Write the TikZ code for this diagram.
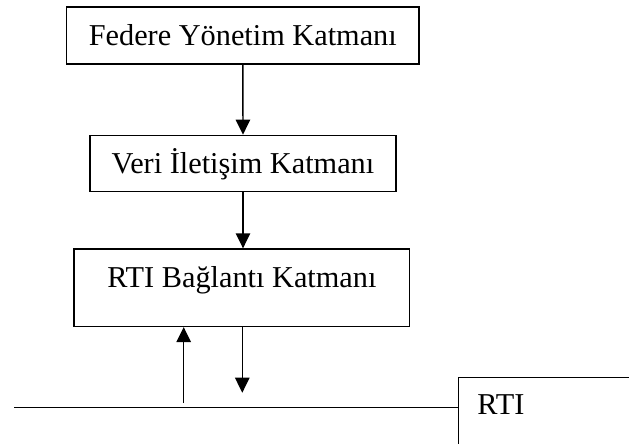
\documentclass[tikz,border=0pt]{standalone}
\usepackage{fontspec}
\setmainfont{Liberation Serif}
\usetikzlibrary{arrows.meta}
\begin{document}
\begin{tikzpicture}[x=1pt, y=-1pt,
  line width=1.4pt,
  layerbox/.style={draw, inner sep=0pt, align=center,
    font=\fontsize{30.3}{35}\selectfont},
  flow/.style={-{Triangle[length=15pt, width=14.5pt]}}]
  \useasboundingbox (0,0) rectangle (629,444);

  % stacked layers
  \node[layerbox, minimum width=352.3pt, minimum height=57pt,
        text height=20pt, text depth=0pt] (fed) at (242.8,35.5) {Federe Yönetim Katmanı};
  \node[layerbox, minimum width=306pt, minimum height=56pt,
        text height=20pt, text depth=0pt] (veri) at (243,163.3) {Veri İletişim Katmanı};
  \node[layerbox, anchor=north, minimum width=335.7pt,
        text height=38.4pt, text depth=39pt] (rtib) at (241.9,248.3) {RTI Bağlantı Katmanı};

  % RTI block at the lower right, running past the edges
  \node[draw, anchor=north west, inner xsep=19pt, inner ysep=0pt,
        text width=160pt, align=left, text height=37pt, text depth=80pt,
        font=\fontsize{30.3}{35}\selectfont] (rti) at (457.7,377) {RTI};

  % bus line into the RTI block
  \coordinate (busL) at (14,407.3);
  \draw (busL) -- (busL -| rti.west);

  % data flow between layers
  \draw[flow] (fed.south) -- (veri.north);
  \draw[flow] (veri.south) -- (veri.south |- rtib.north);

  \coordinate (up) at (183.7,403);
  \coordinate (dn) at (242.3,392.7);
  \draw[flow] (up) -- (up |- rtib.south);
  \draw[flow] (dn |- rtib.south) -- (dn);
\end{tikzpicture}
\end{document}
